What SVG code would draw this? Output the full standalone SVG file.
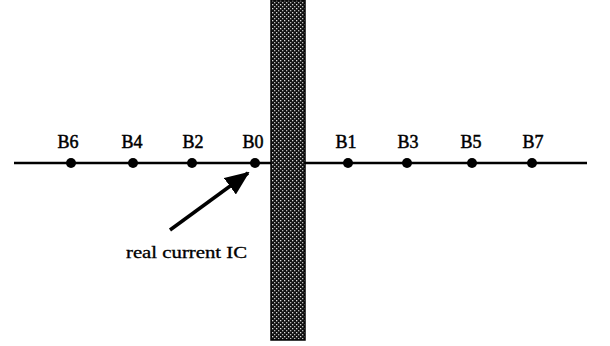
<svg xmlns="http://www.w3.org/2000/svg" width="610" height="346" viewBox="0 0 610 346">
<style>
.lbl{font-family:"Liberation Serif","Times New Roman",serif;font-size:18px;fill:#000;stroke:#000;stroke-width:0.5;text-anchor:middle}
.dot{fill:#000}
</style>
<defs>
<pattern id="tex" width="4" height="4" patternUnits="userSpaceOnUse">
<rect width="4" height="4" fill="#111"/>
<rect x="0" y="0" width="1.3" height="1.3" fill="#ddd"/>
<rect x="2" y="2" width="1.3" height="1.3" fill="#bbb"/>
</pattern>
<marker id="ah" viewBox="0 0 12 10" refX="11" refY="5" markerWidth="7" markerHeight="6" orient="auto" markerUnits="strokeWidth">
<path d="M0,0 L12,5 L0,10 z" fill="#000"/>
</marker>
</defs>
<rect x="0" y="0" width="610" height="346" fill="#fff"/>
<g id="bar">
<rect x="271" y="0" width="34" height="340" fill="url(#tex)" stroke="#000" stroke-width="1.5"/>
</g>
<g id="connectors">
<line x1="14" y1="163" x2="271" y2="163" stroke="#000" stroke-width="2.5"/>
<line x1="305" y1="163" x2="587" y2="163" stroke="#000" stroke-width="2.5"/>
<line x1="170" y1="230" x2="248" y2="173" stroke="#000" stroke-width="3.5" marker-end="url(#ah)"/>
</g>
<g id="B6"><circle class="dot" cx="71" cy="163" r="5"/><text class="lbl" x="68" y="148">B6</text></g>
<g id="B4"><circle class="dot" cx="133" cy="163" r="5"/><text class="lbl" x="132" y="148">B4</text></g>
<g id="B2"><circle class="dot" cx="192" cy="163" r="5"/><text class="lbl" x="193" y="148">B2</text></g>
<g id="B0"><circle class="dot" cx="255" cy="163" r="5"/><text class="lbl" x="253" y="148">B0</text></g>
<g id="B1"><circle class="dot" cx="348" cy="163" r="5"/><text class="lbl" x="346" y="148">B1</text></g>
<g id="B3"><circle class="dot" cx="407" cy="163" r="5"/><text class="lbl" x="408" y="148">B3</text></g>
<g id="B5"><circle class="dot" cx="472" cy="163" r="5"/><text class="lbl" x="471" y="148">B5</text></g>
<g id="B7"><circle class="dot" cx="532" cy="163" r="5"/><text class="lbl" x="533" y="148">B7</text></g>
<g id="label"><text x="126" y="258" font-family="Liberation Serif, Times New Roman, serif" font-size="16" stroke="#000" stroke-width="0.3" textLength="121" lengthAdjust="spacingAndGlyphs">real current IC</text></g>
</svg>
